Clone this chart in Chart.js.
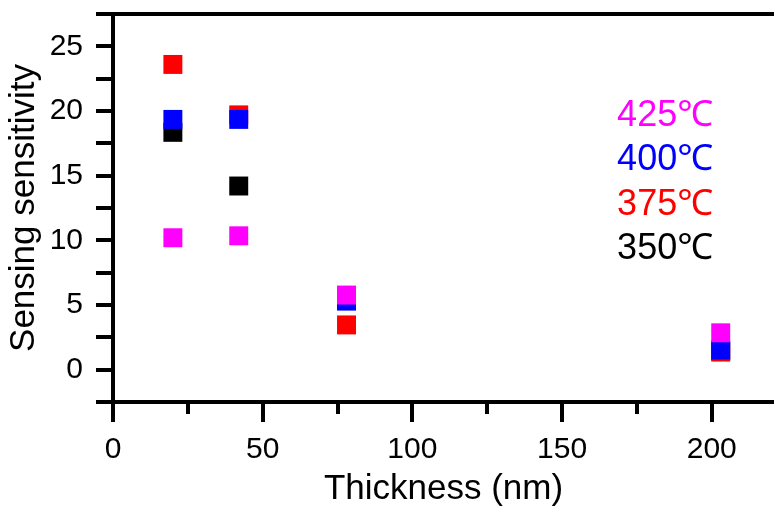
<!DOCTYPE html>
<html>
<head>
<meta charset="utf-8">
<script src="https://cdn.jsdelivr.net/npm/chart.js@4"></script>
<style>
  html, body { margin: 0; padding: 0; background: #fff; overflow: hidden; }
  #wrap { width: 774px; height: 510px; position: relative; }
  #wrap canvas { display: block; }
</style>
</head>
<body>
<div id="wrap"><canvas id="sens"></canvas></div>
<script>
// ── Datos ──────────────────────────────────────────────────────────────────
const thickness = [20, 42, 78, 203];            // nm
const sens425 = [10.2, 10.35, 5.77, 2.85];
const sens400 = [19.35, 19.35, 5.3, 1.52];
const sens375 = [23.6, 19.7, 3.46, 1.36];
const sens350 = [18.35, 14.2, 5.5, 1.45];

const tempLabels = ['425℃', '400℃', '375℃', '350℃'];
const tempColors = ['#ff00ff', '#0000ff', '#ff0000', '#000000'];
const seriesValues = [sens425, sens400, sens375, sens350];

const xTickStep = 25, xLabelStep = 50;
const yTickStep = 2.5, yLabelStep = 5;

const FONT = "'Liberation Sans', Arial, 'Noto Sans', sans-serif";

// Leyenda dibujada como texto de color, sin cajas
const tempLegend = {
  id: 'tempLegend',
  afterDraw(chart, args, opts) {
    const { ctx } = chart;
    ctx.save();
    ctx.font = opts.size + 'px ' + FONT;
    ctx.textAlign = 'right';
    ctx.textBaseline = 'middle';
    tempLabels.forEach((t, i) => {
      ctx.fillStyle = tempColors[i];
      ctx.fillText(t, opts.right, opts.top + i * opts.gap);
    });
    ctx.restore();
  },
};

// Primer dataset se dibuja encima (425 sobre 400 sobre 375 sobre 350)
const datasets = seriesValues.map((vals, i) => ({
  label: tempLabels[i],
  data: thickness.map((x, j) => ({ x, y: vals[j] })),
  backgroundColor: tempColors[i],
  borderColor: tempColors[i],
  borderWidth: 0,
  pointStyle: 'rect',
  pointRadius: 13.4,
  pointHoverRadius: 13.4,
}));

const axisBlack = '#000';
const axisWidth = 4;

// Tamaños fijos del marco (sin relleno automático por etiquetas)
const fixBox = (w, h) => s => {
  if (w != null) s.width = w;
  if (h != null) s.height = h;
  s.paddingTop = s.paddingBottom = s.paddingLeft = s.paddingRight = 0;
};

new Chart(document.getElementById('sens'), {
  type: 'scatter',
  data: { datasets },
  options: {
    responsive: true,
    maintainAspectRatio: false,
    animation: false,
    layout: { autoPadding: false, padding: 0 },
    plugins: {
      legend: { display: false },
      tooltip: { enabled: false },
      tempLegend: { right: 713, top: 116, gap: 44.5, size: 36 },
    },
    scales: {
      x: {
        type: 'linear',
        position: 'bottom',
        min: 0,
        max: 220.8,
        afterFit: fixBox(null, 108),
        border: { display: true, color: axisBlack, width: axisWidth },
        grid: {
          drawOnChartArea: false,
          drawTicks: true,
          tickLength: 20,
          lineWidth: axisWidth,
          tickColor: axisBlack,
          tickBorderDash: c => (c.tick && c.tick.value % xLabelStep !== 0) ? [10, 100] : [],
        },
        ticks: {
          stepSize: xTickStep,
          includeBounds: false,
          autoSkip: false,
          maxRotation: 0,
          color: axisBlack,
          padding: 10,
          font: { family: FONT, size: 30 },
          callback: v => (v % xLabelStep === 0 ? v : ''),
        },
        title: {
          display: true,
          text: 'Thickness (nm)',
          color: axisBlack,
          font: { family: FONT, size: 35 },
          padding: { top: 0, bottom: 0 },
        },
      },
      xTop: {
        type: 'linear',
        position: 'top',
        min: 0,
        max: 220.8,
        afterFit: fixBox(null, 14),
        border: { display: true, color: axisBlack, width: axisWidth },
        grid: { display: false },
        ticks: { display: false },
      },
      y: {
        type: 'linear',
        position: 'left',
        min: -2.5,
        max: 27.5,
        afterFit: fixBox(113, null),
        border: { display: true, color: axisBlack, width: axisWidth },
        grid: {
          drawOnChartArea: false,
          drawTicks: true,
          tickLength: 17,
          lineWidth: axisWidth,
          tickColor: axisBlack,
        },
        ticks: {
          stepSize: yTickStep,
          autoSkip: false,
          color: axisBlack,
          padding: 13,
          font: { family: FONT, size: 30 },
          callback: v => (v >= 0 && v % yLabelStep === 0 ? v : ''),
        },
        title: {
          display: true,
          text: 'Sensing sensitivity',
          color: axisBlack,
          font: { family: FONT, size: 35 },
          padding: { top: 3, bottom: 0 },
        },
      },
    },
  },
  plugins: [tempLegend],
});
</script>
</body>
</html>
